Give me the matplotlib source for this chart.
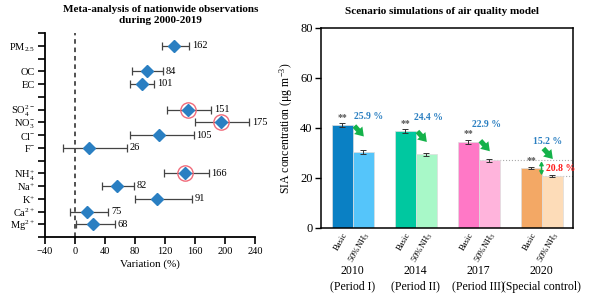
import numpy as np
import matplotlib.pyplot as plt

plt.rcParams['font.family'] = ['Liberation Serif', 'DejaVu Serif']
plt.rcParams['mathtext.fontset'] = 'custom'
plt.rcParams['mathtext.rm'] = 'Liberation Serif'
plt.rcParams['mathtext.it'] = 'Liberation Serif:italic'

# ---- left panel data: meta-analysis (variation %) ----
species = [r'PM$_{2.5}$', 'OC', 'EC', r'SO$_4^{2-}$', r'NO$_3^{-}$', r'Cl$^{-}$', r'F$^{-}$',
           r'NH$_4^{+}$', r'Na$^{+}$', r'K$^{+}$', r'Ca$^{2+}$', r'Mg$^{2+}$']
rows = [1, 3, 4, 6, 7, 8, 9, 11, 12, 13, 14, 15]
variation = [132, 96, 89, 150, 194, 112, 19, 146, 56, 109, 16, 24]
ci_low = [116, 76, 73, 122, 160, 73, -16, 119, 36, 80, -7, 1]
ci_high = [152, 117, 105, 181, 232, 158, 69, 178, 78, 156, 44, 53]
n_obs = [162, 84, 101, 151, 175, 105, 26, 166, 82, 91, 75, 68]
circled = [False, False, False, True, True, False, False, True, False, False, False, False]

# ---- right panel data: scenario simulations (SIA, ug m-3) ----
years = ['2010', '2014', '2017', '2020']
periods = ['(Period I)', '(Period II)', '(Period III)', '(Special control)']
basic = [41.0, 38.8, 34.5, 24.0]
basic_err = [0.8, 0.8, 0.8, 0.5]
nh3_half = [30.4, 29.4, 27.0, 20.8]
nh3_err = [0.7, 0.7, 0.6, 0.4]
reduction = ['25.9 %', '24.4 %', '22.9 %', '15.2 %']
basic_colors = ['#0a80c4', '#00c8a0', '#ff78c6', '#f3a865']
half_colors = ['#55c5fa', '#a8f8c8', '#ffb4dc', '#fddcb8']

fig = plt.figure(figsize=(6, 3), dpi=100)

# ================= left panel =================
ax1 = fig.add_axes([0.075, 0.21, 0.35, 0.68])
err = [np.array(variation) - np.array(ci_low), np.array(ci_high) - np.array(variation)]
ax1.errorbar(variation, rows, xerr=err, fmt='none', ecolor='#444444', elinewidth=0.9,
             capsize=3, capthick=0.9, zorder=2)
ax1.plot(variation, rows, 'D', color='#2a7fc2', ms=6, zorder=3)
for v, r, c in zip(variation, rows, circled):
    if c:
        ax1.plot(v, r, 'o', ms=11, mfc='none', mec='#f06a7a', mew=1.0, zorder=4)
for hi, r, n in zip(ci_high, rows, n_obs):
    ax1.text(hi + 4, r, str(n), va='center', ha='left', fontsize=7.5)
ax1.axvline(0, color='#222222', ls=(0, (3, 2.5)), lw=1.1, zorder=1)

ax1.set_xlim(-40, 240)
ax1.set_ylim(16, 0)
ax1.set_xticks(np.arange(-40, 241, 40))
ax1.set_yticks(np.arange(0, 17))
labels = [''] * 17
for r, s in zip(rows, species):
    labels[r] = s
ax1.set_yticklabels(labels)
ax1.tick_params(axis='both', labelsize=7.5, width=1.2, length=5, pad=2)
ax1.spines['top'].set_visible(False)
ax1.spines['right'].set_visible(False)
ax1.spines['left'].set_linewidth(1.3)
ax1.spines['bottom'].set_linewidth(1.3)
ax1.set_xlabel('Variation (%)', fontsize=8, labelpad=3)
fig.text(0.268, 0.985, 'Meta-analysis of nationwide observations\nduring 2000-2019',
         ha='center', va='top', fontsize=8, fontweight='bold', linespacing=1.3)

# ================= right panel =================
ax2 = fig.add_axes([0.535, 0.24, 0.42, 0.6667])
w = 1 / 3
x = np.arange(len(years))
ax2.bar(x - w / 2, basic, w, color=basic_colors, edgecolor='#dddddd', lw=0.5, zorder=2)
ax2.bar(x + w / 2, nh3_half, w, color=half_colors, edgecolor='#dddddd', lw=0.5, zorder=2)
ax2.errorbar(x - w / 2, basic, yerr=basic_err, fmt='none', ecolor='#333333', elinewidth=0.7,
             capsize=2.5, capthick=0.7, zorder=3)
ax2.errorbar(x + w / 2, nh3_half, yerr=nh3_err, fmt='none', ecolor='#333333', elinewidth=0.7,
             capsize=2.5, capthick=0.7, zorder=3)

green = '#14b24a'
blue_txt = '#2a7fc1'
# significance marks and reduction arrows
for i in range(len(years)):
    ax2.text(x[i] - w / 2, basic[i] + 1.3, '**', ha='center', va='bottom', fontsize=7,
             color='#555555', fontweight='bold')
arrow_y0 = [basic[0] - 0.2, basic[1] - 0.2, basic[2] + 0.4, nh3_half[2] + 4.8]
for i in range(len(years)):
    ax2.annotate('', xy=(x[i] + 0.18, arrow_y0[i] - 4.2), xytext=(x[i] + 0.03, arrow_y0[i]),
                 arrowprops=dict(arrowstyle='simple,head_width=1.0,head_length=0.75,tail_width=0.45',
                                 mutation_scale=8, color=green, lw=0, shrinkA=0, shrinkB=0),
                 zorder=4)
label_pos = [(0.26, basic[0] + 3.5), (1.2, basic[1] + 5.2), (2.13, basic[2] + 6.7), (3.1, 34.4)]
for (lx, ly), t in zip(label_pos, reduction):
    ax2.text(lx, ly, t, ha='center', va='center', fontsize=7, color=blue_txt,
             fontweight='bold')

# 2020 versus 2017 comparison
ax2.plot([2.0, 3.5], [nh3_half[2], nh3_half[2]], ls=':', color='#aaaaaa', lw=0.8, zorder=1)
ax2.plot([3.0, 3.5], [nh3_half[3], nh3_half[3]], ls=':', color='#aaaaaa', lw=0.8, zorder=1)
ax2.annotate('', xy=(3.0, nh3_half[3] + 0.3), xytext=(3.0, nh3_half[2] - 0.3),
             arrowprops=dict(arrowstyle='<|-|>,head_width=0.12,head_length=0.22',
                             mutation_scale=10, color=green, lw=1.0, shrinkA=0, shrinkB=0),
             zorder=4)
ax2.text(3.3, (nh3_half[2] + nh3_half[3]) / 2, '20.8 %', ha='center', va='center',
         fontsize=7, color='#ff1a1a', fontweight='bold')

ax2.set_xlim(-0.5, 3.5)
ax2.set_ylim(0, 80)
ax2.set_yticks(np.arange(0, 81, 20))
ax2.set_xticks(np.concatenate([x - w / 2, x + w / 2]))
ax2.set_xticklabels(['Basic'] * 4 + [r'50%NH$_3$'] * 4, rotation=60, ha='right',
                    rotation_mode='anchor', fontsize=6.3)
ax2.tick_params(axis='x', length=0, pad=2)
ax2.tick_params(axis='y', labelsize=9, width=1.0, length=4, pad=2)
for s in ax2.spines.values():
    s.set_linewidth(1.1)
ax2.set_ylabel(r'SIA concentration ($\mathregular{\mu}$g m$^{-3}$)', fontsize=8.5, labelpad=4)
for i in range(len(years)):
    ax2.text(x[i], -0.255, years[i] + '\n' + periods[i], transform=ax2.get_xaxis_transform(),
             ha='center', va='center', fontsize=8.5, linespacing=1.35)
fig.text(0.737, 0.963, 'Scenario simulations of air quality model', ha='center', va='center',
         fontsize=8, fontweight='bold')

fig.savefig('out.png', dpi=100)
